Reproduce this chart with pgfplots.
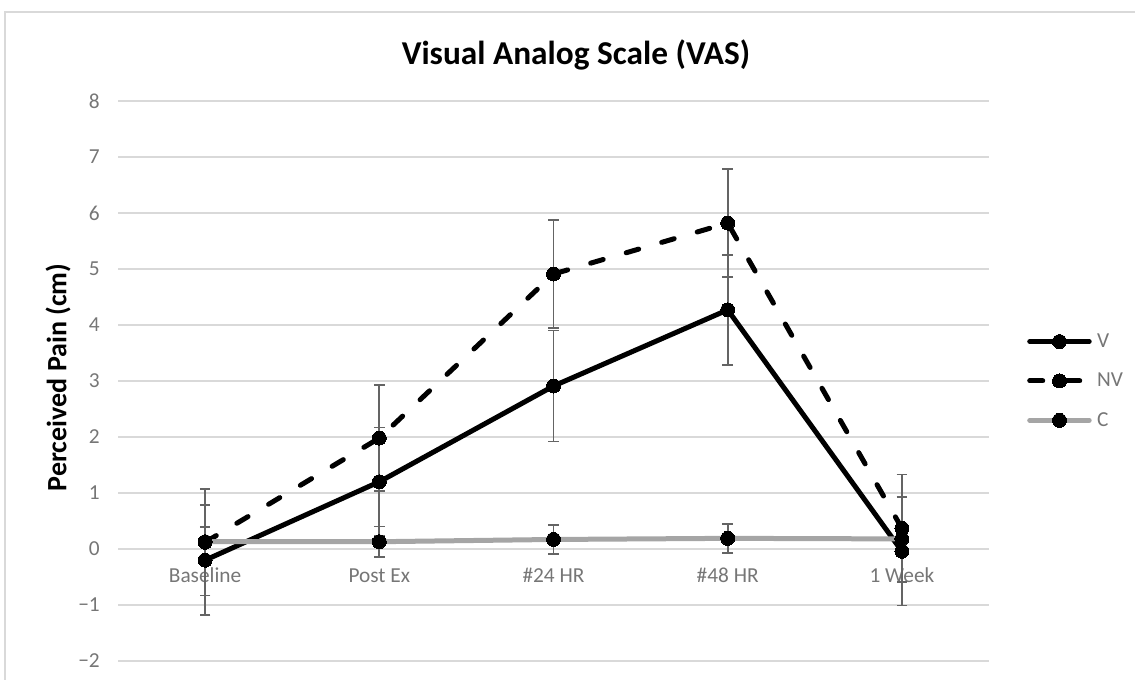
\documentclass[border=0pt]{standalone}
\usepackage{fontspec}
\setmainfont{Carlito}
\usepackage{pgfplots}
\pgfplotsset{compat=1.18}
\definecolor{tickgray}{RGB}{118,118,118}
\definecolor{gridgray}{RGB}{217,217,217}
\definecolor{cgray}{RGB}{165,165,165}
\definecolor{errgray}{RGB}{100,100,100}
\pgfplotstableread{
x y e
0 -0.20 0.98
1 1.20 0.97
2 2.91 0.99
3 4.27 0.98
4 -0.04 0.97
}\dataV
\pgfplotstableread{
x y e
0 0.12 0.95
1 1.98 0.95
2 4.91 0.97
3 5.82 0.96
4 0.37 0.96
}\dataNV
\pgfplotstableread{
x y e
0 0.13 0.26
1 0.13 0.27
2 0.17 0.26
3 0.19 0.26
4 0.18 0.26
}\dataC
\pgfplotsset{myerr/.style={
  /pgfplots/error bars/y dir=both,
  /pgfplots/error bars/y explicit,
  /pgfplots/error bars/error bar style={line width=1.3pt, errgray, solid, line cap=butt},
  /pgfplots/error bars/error mark options={rotate=90, line width=1.3pt, errgray, mark size=4pt, solid}}}
\begin{document}
\begin{tikzpicture}
\draw[gridgray, line width=1.1pt] (3.75pt,-15pt) -- (3.75pt,501pt) -- (862.5pt,501pt);
\node[font=\fontsize{25}{30}\selectfont\bfseries, text=black, anchor=base, inner sep=0pt] at (432pt,461.6pt) {Visual Analog Scale (VAS)};
\node[font=\fontsize{21}{25}\selectfont\bfseries, rotate=90, inner sep=0pt] at (43.5pt,227pt) {Perceived Pain (cm)};
\begin{axis}[
  set layers,
  at={(88.5pt,14.25pt)}, anchor=south west,
  scale only axis, width=653.25pt, height=420pt,
  xmin=-0.5, xmax=4.5, ymin=-2, ymax=8,
  axis x line=middle, axis y line=left,
  axis line style={draw=none},
  major tick length=0pt,
  xtick={0,1,2,3,4},
  xticklabels={Baseline, Post Ex, \#24 HR, \#48 HR, 1 Week},
  ytick={-2,-1,0,1,2,3,4,5,6,7,8},
  yticklabels={−2,−1,0,1,2,3,4,5,6,7,8},
  ymajorgrids, xmajorgrids=false,
  grid style={gridgray, line width=1.1pt},
  tick label style={font=\fontsize{16}{19}\selectfont, text=tickgray, inner sep=0pt},
  xticklabel style={anchor=base, yshift=-25.5pt},
  yticklabel style={anchor=east, xshift=-13.5pt},
  legend style={at={(1.0436,0.5)}, anchor=west, draw=none, fill=none,
    inner sep=0pt, font=\fontsize{16}{19}\selectfont, text=tickgray,
    row sep=15.75pt, column sep=3pt, nodes={inner sep=1pt}},
  legend cell align=left,
  legend image code/.code={\draw[#1, mark repeat=2, mark phase=2] plot coordinates {(0pt,0pt) (22.3pt,0pt) (44.6pt,0pt)};},
  every axis plot/.append style={line width=3.75pt, line cap=round, line join=round,
    mark=*, mark size=5.25pt, mark options={solid, fill=black, draw=black, line width=0pt}},
]
\addplot[black, myerr] table[x=x, y=y, y error=e] {\dataV};
\addlegendentry{V}
\addplot[black, dash pattern=on 9.75pt off 18pt, myerr] table[x=x, y=y, y error=e] {\dataNV};
\addlegendentry{NV}
\addplot[cgray, myerr] table[x=x, y=y, y error=e] {\dataC};
\addlegendentry{C}
\end{axis}
\pgfresetboundingbox
\useasboundingbox (0pt,0pt) rectangle (851.25pt,510pt);
\end{tikzpicture}
\end{document}
